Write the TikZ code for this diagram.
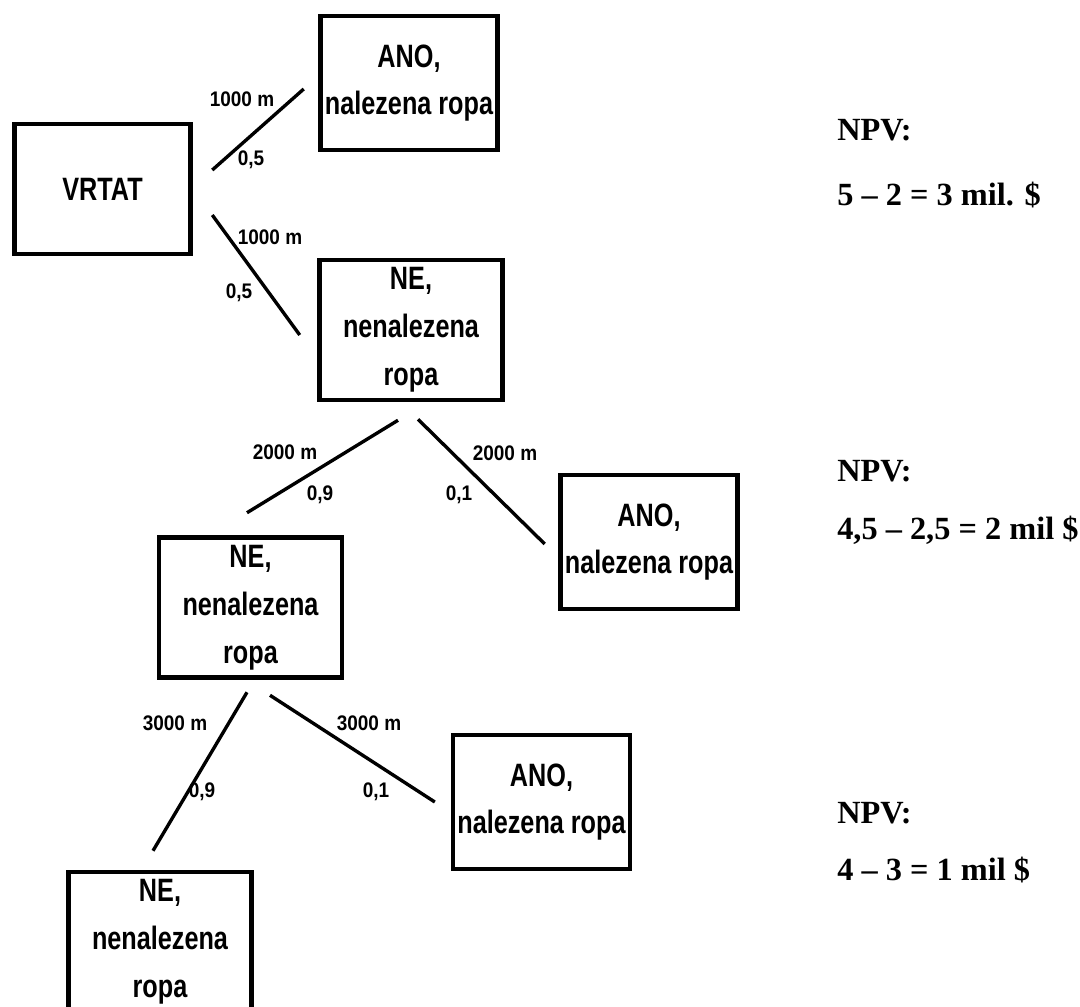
\documentclass[tikz,border=0pt]{standalone}
\usepackage{fontspec}
\setmainfont{Liberation Serif}
\newfontfamily\boxfont[FakeStretch=0.78]{Liberation Sans}
\newfontfamily\labelfont[FakeStretch=0.9]{Liberation Sans}
\usetikzlibrary{positioning}
\tikzset{
  branch/.style={line width=2.4pt},
  outcome/.style={draw,line width=3.2pt,inner sep=0pt,align=center,
    minimum width=4.42cm,minimum height=3.34cm,font=\boxfont\bfseries\fontsize{23}{34}\selectfont},
  nobox/.style={outcome,minimum width=4.58cm,minimum height=3.5cm},
  prob/.style={inner sep=0pt,font=\labelfont\bfseries\fontsize{15}{18}\selectfont},
  npv/.style={anchor=west,inner sep=0pt,font=\bfseries\fontsize{23}{27}\selectfont}
}

\begin{document}
\begin{tikzpicture}[x=0.025cm,y=-0.025cm]
  \useasboundingbox (0,0) rectangle (1080,1007);
  % decision tree
  \node[outcome,minimum width=4.41cm,minimum height=3.24cm] (vrtat) at (102.5,189) {VRTAT};
  \node[outcome] (ano1) at (409,83) {ANO,\\nalezena ropa};
  \node[nobox] (ne1) at (411,330) {NE,\\nenalezena\\ropa};
  \node[outcome] (ano2) at (649,542) {ANO,\\nalezena ropa};
  \node[nobox] (ne2) at (250.5,607.5) {NE,\\nenalezena\\ropa};
  \node[outcome] (ano3) at (541.5,802) {ANO,\\nalezena ropa};
  \node[nobox] (ne3) at (160,942) {NE,\\nenalezena\\ropa};
  \draw[branch] ([shift={(19.3,-19)}]vrtat.east)--([shift={(-14.6,6)}]ano1.west);
  \draw[branch] ([shift={(19.3,26)}]vrtat.east)--([shift={(-17.4,5)}]ne1.west);
  \draw[branch] ([shift={(-13,18)}]ne1.south)--([shift={(-3.5,-22.5)}]ne2.north);
  \draw[branch] ([shift={(7,17)}]ne1.south)--([shift={(-13.6,2)}]ano2.west);
  \draw[branch] ([shift={(-3.5,12.5)}]ne2.south)--([shift={(-7,-19)}]ne3.north);
  \draw[branch] ([shift={(19.5,15.5)}]ne2.south)--([shift={(-16,0)}]ano3.west);
  % branch labels
  \node[prob] (d1) at (242,99.5) {1000 m};
  \node[prob] (p1) at (251,160) {0,5};
  \node[prob] (d2) at (270,237.5) {1000 m};
  \node[prob] (p2) at (239,293) {0,5};
  \node[prob] (d3) at (285,452) {2000 m};
  \node[prob] (p3) at (320,495) {0,9};
  \node[prob] (d4) at (505,453) {2000 m};
  \node[prob] (p4) at (459,495) {0,1};
  \node[prob] (d5) at (175,723) {3000 m};
  \node[prob] (p5) at (202,792) {0,9};
  \node[prob] (d6) at (369,723) {3000 m};
  \node[prob] (p6) at (376,792) {0,1};
  % NPV values
  \node[npv] (npv1) at (837,130) {NPV:};
  \node[npv] (val1) at (837,195) {5 -- 2 = 3 mil. \$};
  \node[npv] (npv2) at (837,471) {NPV:};
  \node[npv] (val2) at (837,530) {4,5 -- 2,5 = 2 mil \$};
  \node[npv] (npv3) at (837,813) {NPV:};
  \node[npv] (val3) at (837,870) {4 -- 3 = 1 mil \$};
\end{tikzpicture}
\end{document}
